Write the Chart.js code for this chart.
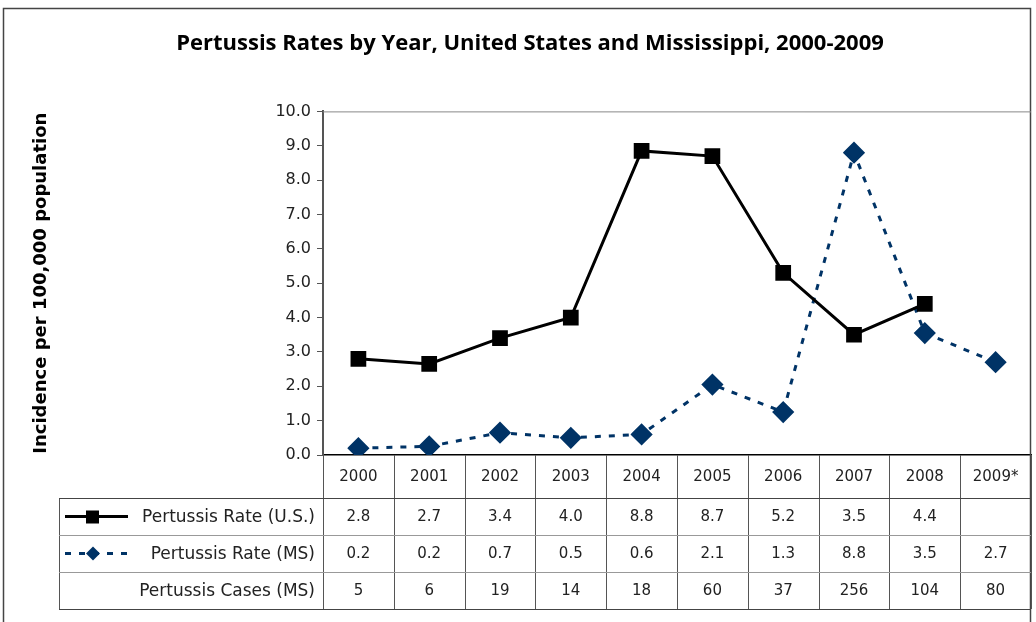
<!DOCTYPE html>
<html>
<head>
<meta charset="utf-8">
<script src="https://cdn.jsdelivr.net/npm/chart.js@4"></script>
<style>
  html, body { margin: 0; padding: 0; background: #fff; }
  #wrap { width: 1036px; height: 622px; }
</style>
</head>
<body>
<div id="wrap"><canvas id="pertChart" width="1036" height="622"></canvas></div>
<script>
// Data
const years = ['2000', '2001', '2002', '2003', '2004', '2005', '2006', '2007', '2008', '2009*'];
const usRate = [2.8, 2.65, 3.4, 4.0, 8.85, 8.7, 5.3, 3.5, 4.4, null];
const msRate = [0.2, 0.25, 0.65, 0.5, 0.6, 2.05, 1.25, 8.8, 3.55, 2.7];
// table text as printed
const usRateText = ['2.8', '2.7', '3.4', '4.0', '8.8', '8.7', '5.2', '3.5', '4.4', ''];
const msRateText = ['0.2', '0.2', '0.7', '0.5', '0.6', '2.1', '1.3', '8.8', '3.5', '2.7'];
const msCasesText = ['5', '6', '19', '14', '18', '60', '37', '256', '104', '80'];
const rowLabels = ['Pertussis Rate (U.S.)', 'Pertussis Rate (MS)', 'Pertussis Cases (MS)'];

const NAVY = '#003366';
const numFont = '15px "DejaVu Sans"';
const labelFont = '17px "DejaVu Sans"';

// Draws the data table under the plot + the outer frame
const dataTable = {
  id: 'dataTable',
  afterDraw(chart) {
    const ctx = chart.ctx;
    const area = chart.chartArea;
    const x = chart.scales.x;
    const colW = (area.right - area.left) / years.length;
    const headTop = area.bottom, rowTop = 498, rowH = 37, tableLeft = 59;
    const tableBottom = rowTop + rowH * 3;

    ctx.save();
    // outer frame
    ctx.strokeStyle = '#444';
    ctx.lineWidth = 1.5;
    ctx.strokeRect(3.5, 8.5, 1027, 640);

    // vertical cell lines
    ctx.strokeStyle = '#555';
    ctx.lineWidth = 1;
    for (let i = 0; i <= years.length; i++) {
      const lx = Math.round(area.left + i * colW) + 0.5;
      ctx.beginPath();
      ctx.moveTo(lx, headTop);
      ctx.lineTo(lx, tableBottom);
      ctx.stroke();
    }
    ctx.beginPath();
    ctx.moveTo(tableLeft + 0.5, rowTop);
    ctx.lineTo(tableLeft + 0.5, tableBottom);
    ctx.stroke();

    // horizontal lines
    [rowTop, tableBottom].forEach(y => {
      ctx.strokeStyle = '#444';
      ctx.beginPath();
      ctx.moveTo(tableLeft, y + 0.5);
      ctx.lineTo(area.right, y + 0.5);
      ctx.stroke();
    });
    [rowTop + rowH, rowTop + rowH * 2].forEach(y => {
      ctx.strokeStyle = '#999';
      ctx.beginPath();
      ctx.moveTo(tableLeft, y + 0.5);
      ctx.lineTo(area.right, y + 0.5);
      ctx.stroke();
    });

    // text
    ctx.font = numFont;
    ctx.fillStyle = '#222';
    ctx.textAlign = 'center';
    ctx.textBaseline = 'middle';
    years.forEach((yr, i) => {
      const cx = x.getPixelForValue(i);
      ctx.fillText(yr, cx, (headTop + rowTop) / 2 + 1);
      ctx.fillText(usRateText[i], cx, rowTop + rowH * 0.5 + 1);
      ctx.fillText(msRateText[i], cx, rowTop + rowH * 1.5 + 1);
      ctx.fillText(msCasesText[i], cx, rowTop + rowH * 2.5 + 1);
    });
    ctx.font = labelFont;
    ctx.textAlign = 'right';
    rowLabels.forEach((lbl, r) => {
      ctx.fillText(lbl, area.left - 8, rowTop + rowH * (r + 0.5) + 1);
    });

    // legend keys
    const ky1 = rowTop + rowH * 0.5, ky2 = rowTop + rowH * 1.5;
    ctx.strokeStyle = '#000';
    ctx.lineWidth = 3;
    ctx.beginPath();
    ctx.moveTo(65, ky1);
    ctx.lineTo(128, ky1);
    ctx.stroke();
    ctx.fillStyle = '#000';
    ctx.fillRect(86, ky1 - 6, 13, 13);

    ctx.strokeStyle = NAVY;
    ctx.setLineDash([6, 8]);
    ctx.beginPath();
    ctx.moveTo(65, ky2);
    ctx.lineTo(128, ky2);
    ctx.stroke();
    ctx.setLineDash([]);
    ctx.fillStyle = NAVY;
    ctx.beginPath();
    ctx.moveTo(93, ky2 - 7);
    ctx.lineTo(100, ky2);
    ctx.lineTo(93, ky2 + 7);
    ctx.lineTo(86, ky2);
    ctx.closePath();
    ctx.fill();

    // top edge of the plot area
    ctx.strokeStyle = '#888';
    ctx.lineWidth = 1;
    ctx.beginPath();
    ctx.moveTo(area.left, area.top + 0.5);
    ctx.lineTo(area.right, area.top + 0.5);
    ctx.stroke();
    ctx.restore();
  }
};

new Chart(document.getElementById('pertChart'), {
  type: 'line',
  data: {
    labels: years,
    datasets: [{
      label: 'Pertussis Rate (U.S.)',
      data: usRate,
      borderColor: '#000',
      backgroundColor: '#000',
      borderWidth: 3,
      pointStyle: 'rect',
      pointRadius: 9,
      pointHoverRadius: 9,
      tension: 0
    }, {
      label: 'Pertussis Rate (MS)',
      data: msRate,
      borderColor: NAVY,
      backgroundColor: NAVY,
      borderWidth: 3,
      borderDash: [6, 8],
      pointStyle: 'rectRot',
      pointRadius: 9,
      pointHoverRadius: 9,
      tension: 0
    }]
  },
  options: {
    responsive: false,
    animation: false,
    layout: { autoPadding: false, padding: { left: 29, right: 5, top: 0, bottom: 167 } },
    plugins: {
      legend: { display: false },
      tooltip: { enabled: false },
      title: {
        display: true,
        text: 'Pertussis Rates by Year, United States and Mississippi, 2000-2009',
        color: '#000',
        font: { family: 'Open Sans', size: 22, weight: 'bold' },
        padding: { top: 31, bottom: 54 }
      }
    },
    scales: {
      x: {
        offset: true,
        ticks: { display: false },
        grid: { display: false },
        border: { display: true, color: '#000', width: 1.5 },
        afterFit: s => { s.height = 0; }
      },
      y: {
        min: 0,
        max: 10,
        ticks: {
          stepSize: 1,
          padding: 6,
          color: '#222',
          font: { family: 'DejaVu Sans', size: 16 },
          callback: v => v.toFixed(1)
        },
        grid: { drawOnChartArea: false, tickLength: 6, color: '#555' },
        border: { display: true, color: '#555', width: 2 },
        title: {
          display: true,
          text: 'Incidence per 100,000 population',
          color: '#000',
          font: { family: 'DejaVu Sans', size: 18, weight: 'bold' },
          padding: { top: 2 }
        },
        afterFit: s => { s.width = 323 - 29; }
      }
    }
  },
  plugins: [dataTable]
});
</script>
</body>
</html>
